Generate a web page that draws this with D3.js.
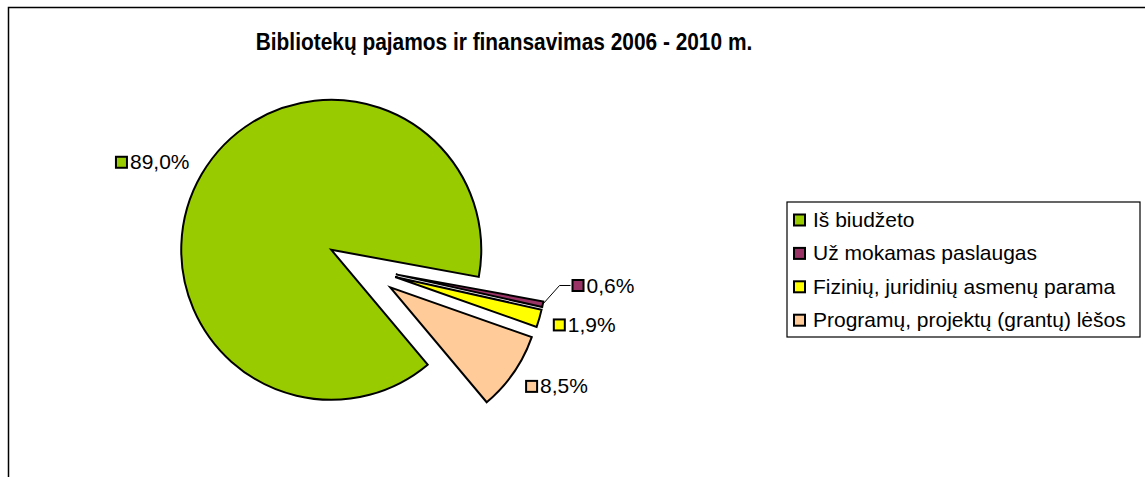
<!DOCTYPE html>
<html>
<head>
<meta charset="utf-8">
<script src="https://cdn.jsdelivr.net/npm/d3@7"></script>
<style>
  body { margin: 0; background: #fff; }
  svg text { font-family: "Liberation Sans", Arial, sans-serif; fill: #000; }
</style>
</head>
<body>
<script>
const title = "Bibliotekų pajamos ir finansavimas 2006 - 2010 m."
const categories = ["Iš biudžeto", "Už mokamas paslaugas", "Fizinių, juridinių asmenų parama", "Programų, projektų (grantų) lėšos"]
const shares = [89.0, 0.6, 1.9, 8.5]
const colors = ["#99cc00", "#993366", "#ffff00", "#ffcc99"]

let w = 1145, h = 477
let cx = 361.5, cy = 267.4, r = 150
let explode = 35
let labelGap = 14
let fontSize = 20, stretch = 1.05
let fmt = v => d3.format(".1f")(v).replace(".", ",") + "%"

let svg = d3.select("body").append("svg")
    .attr("width", w)
    .attr("height", h)

// chart area border (cropped at right and bottom)
svg.append("path")
    .attr("d", `M8.5,${h} V7.5 H${w}`)
    .attr("fill", "none")
    .attr("stroke", "#000")
    .attr("stroke-width", 1.5)

svg.append("text")
    .attr("transform", "translate(504,50) scale(0.87,1)")
    .attr("text-anchor", "middle")
    .attr("font-size", 24)
    .attr("font-weight", "bold")
    .text(title)

let a0 = 140 * Math.PI / 180
let pie = d3.pie().sort(null).value(d => d).startAngle(a0).endAngle(a0 + 2 * Math.PI)
let arc = d3.arc().innerRadius(0).outerRadius(r)
let arcs = pie(shares)
let dir = d => { let a = (d.startAngle + d.endAngle) / 2; return [Math.sin(a), -Math.cos(a)] }

let plot = svg.append("g").attr("transform", `translate(${cx},${cy})`)

plot.selectAll("path.slice")
    .data(arcs)
    .enter()
    .append("path")
    .attr("class", "slice")
    .attr("d", arc)
    .attr("transform", d => { let [dx, dy] = dir(d); return `translate(${dx * explode},${dy * explode})` })
    .attr("fill", (d, i) => colors[i])
    .attr("stroke", "#000")
    .attr("stroke-width", 2)
    .attr("stroke-linejoin", "miter")
    .attr("stroke-miterlimit", 4)

// data labels; the 0,6% label is pushed aside by Excel and gets a leader line
let shift = { 1: [15, -23.5] }
let boxH = 20
arcs.forEach((d, i) => {
    let [dx, dy] = dir(d)
    let px = dx * (explode + r + labelGap), py = dy * (explode + r + labelGap)
    let yc = py + dy * boxH / 2
    let text = fmt(shares[i])
    let g = plot.append("g")
    let t = g.append("text")
        .attr("font-size", fontSize)
        .attr("dy", "0.35em")
        .text(text)
    let tw = t.node().getComputedTextLength() * stretch
    let bw = 12 + 3 + tw
    let left = dx >= 0 ? px : px - bw
    if (shift[i]) { left += shift[i][0]; yc += shift[i][1] }
    g.append("rect")
        .attr("x", left + 1)
        .attr("y", yc - 5.5)
        .attr("width", 11)
        .attr("height", 11)
        .attr("fill", colors[i])
        .attr("stroke", "#000")
        .attr("stroke-width", 2)
    t.attr("transform", `translate(${left + 15},${yc}) scale(${stretch},1)`)
    if (shift[i]) {
        let ox = dx * (explode + r), oy = dy * (explode + r)
        plot.append("path")
            .attr("d", `M${ox},${oy} L${left - 12},${yc} H${left - 1}`)
            .attr("fill", "none")
            .attr("stroke", "#000")
            .attr("stroke-width", 1)
    }
})

// legend
let lg = svg.append("g").attr("transform", "translate(787,202)")
lg.append("rect")
    .attr("width", 353)
    .attr("height", 135)
    .attr("fill", "#fff")
    .attr("stroke", "#000")
    .attr("stroke-width", 1.2)
let row = lg.selectAll("g.row")
    .data(categories)
    .enter()
    .append("g")
    .attr("class", "row")
    .attr("transform", (d, i) => `translate(0,${18 + i * 33.4})`)
row.append("rect")
    .attr("x", 7)
    .attr("y", -5.5)
    .attr("width", 11)
    .attr("height", 11)
    .attr("fill", (d, i) => colors[i])
    .attr("stroke", "#000")
    .attr("stroke-width", 2)
row.append("text")
    .attr("transform", `translate(26,0) scale(${stretch},1)`)
    .attr("font-size", fontSize)
    .attr("dy", "0.35em")
    .text(d => d)
</script>
</body>
</html>
